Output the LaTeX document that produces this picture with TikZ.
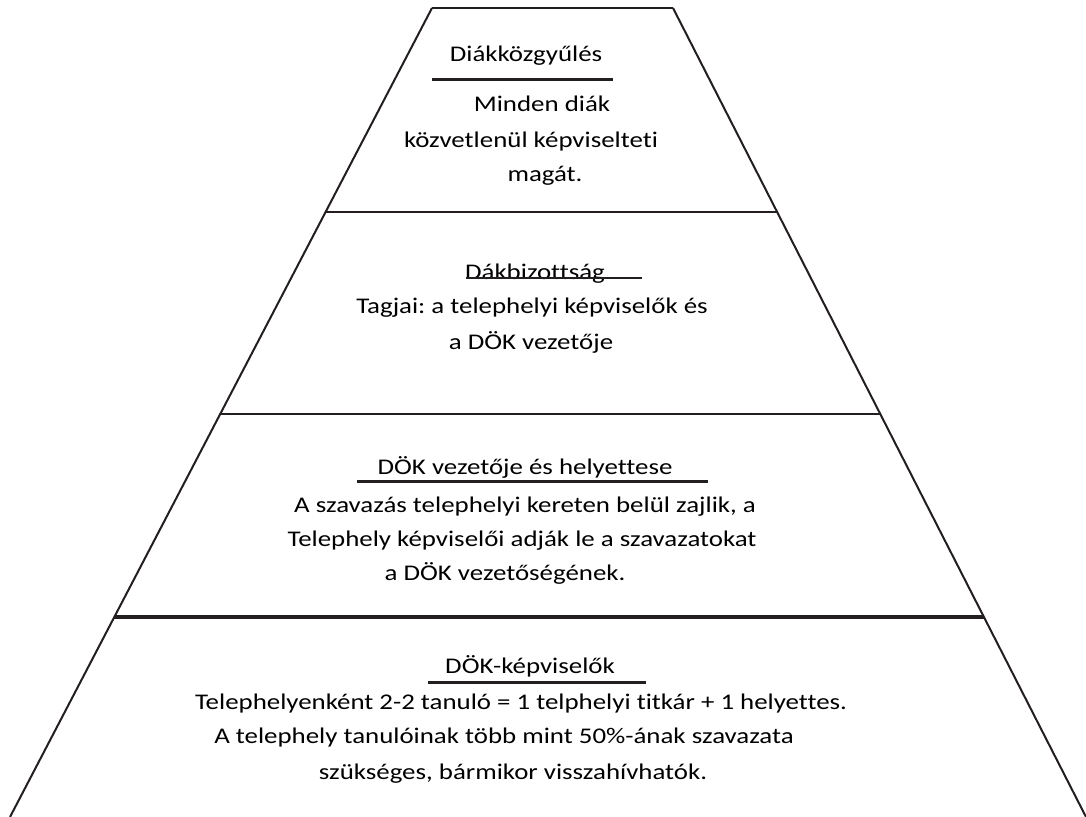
\documentclass[tikz,border=0pt]{standalone}
\usepackage{fontspec}
\setmainfont{Carlito}[FakeStretch=1.2, Ligatures=CommonOff]
\usetikzlibrary{calc}
\definecolor{ink}{HTML}{231F20}
\frenchspacing
\tikzset{
  txt/.style={anchor=base, inner sep=0pt, font=\fontsize{11.2}{13}\selectfont},
  rule/.style={draw=ink, line width=1.5pt},
}
\begin{document}
\begin{tikzpicture}[x=0.5pt, y=-0.5pt, line width=1pt]
\useasboundingbox (0,0) rectangle (1086,817);
\coordinate (tl) at (432,8);
\coordinate (tr) at (673,8);
\coordinate (bl) at (10,817);
\coordinate (br) at (1086,817);

% sides and levels
\draw[ink] (bl) -- (tl);
\draw[ink] (tr) -- (br);
\draw[rule, line width=1.3pt] (tl) -- (tr);
\foreach \t/\w in {0.2522/1.3pt, 0.5019/1.3pt, 0.7528/2pt}
  \draw[rule, line width=\w] ($(tl)!\t!(bl)$) -- ($(tr)!\t!(br)$);

% level 1
\node[txt] (gyules) at (526,62) {Diákközgyűlés};
\draw[rule] (432,80) -- (613,80);
\node[txt] (gy1) at (542,112) {Minden diák};
\node[txt] (gy2) at (531,148) {közvetlenül képviselteti};
\node[txt] (gy3) at (545,182) {magát.};

% level 2
\node[txt] (bizottsag) at (535,280) {Dákbizottság};
\draw[rule, line width=0.75pt] (466,278) -- (642,278);
\node[txt] (bz1) at (532,314) {Tagjai: a telephelyi képviselők és};
\node[txt] (bz2) at (531,350) {a DÖK vezetője};

% level 3
\node[txt] (vezeto) at (525,474) {DÖK vezetője és helyettese};
\draw[rule] (357,482) -- (708,482);
\node[txt] (vz1) at (525,512) {A szavazás telephelyi kereten belül zajlik, a};
\node[txt] (vz2) at (522,546) {Telephely képviselői adják le a szavazatokat};
\node[txt] (vz3) at (505,580) {a DÖK vezetőségének.};

% level 4
\node[txt] (kepviselok) at (530,673) {DÖK-képviselők};
\draw[rule] (428,682) -- (646,682);
\node[txt] (kp1) at (521,709) {Telephelyenként 2-2 tanuló = 1 telphelyi titkár + 1 helyettes.};
\node[txt] (kp2) at (504,743) {A telephely tanulóinak több mint 50\%-ának szavazata};
\node[txt] (kp3) at (513,779) {szükséges, bármikor visszahívhatók.};
\end{tikzpicture}
\end{document}
